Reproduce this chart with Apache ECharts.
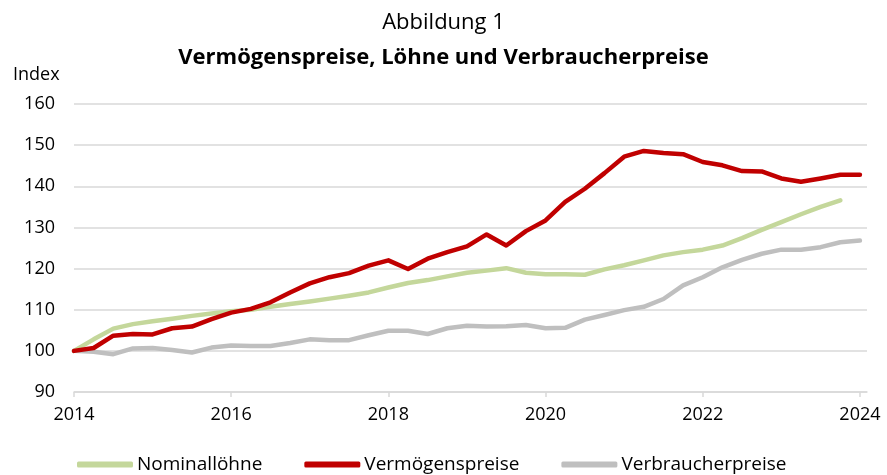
<!DOCTYPE html>
<html>
<head>
<meta charset="utf-8">
<script src="https://cdn.jsdelivr.net/npm/echarts@6/dist/echarts.min.js"></script>
<style>
html,body{margin:0;padding:0;background:#fff;}
#chart{width:887px;height:475px;}
</style>
</head>
<body>
<div id="chart"></div>
<script>
// Quarterly data, 2014 Q1 onward
var startYear = 2014;
var xTickLabels = [2014, 2016, 2018, 2020, 2022, 2024];
var yTicks = [90, 100, 110, 120, 130, 140, 150, 160];

var nominalloehne = [100, 102.8, 105.4, 106.5, 107.2, 107.8, 108.5, 109.1, 109.6, 110.0,
  110.7, 111.4, 112.0, 112.7, 113.4, 114.2, 115.4, 116.5, 117.2, 118.1,
  119.0, 119.5, 120.1, 119.0, 118.6, 118.6, 118.5, 119.8, 120.8, 122.0,
  123.2, 124.0, 124.6, 125.6, 127.4, 129.4, 131.3, 133.2, 135.0, 136.6];

var vermoegenspreise = [100, 100.7, 103.7, 104.1, 104.0, 105.5, 105.9, 107.7, 109.3, 110.2,
  111.8, 114.2, 116.4, 117.9, 118.9, 120.7, 122.0, 119.9, 122.4, 124.0,
  125.4, 128.3, 125.6, 129.1, 131.7, 136.2, 139.4, 143.2, 147.2, 148.6,
  148.1, 147.8, 145.9, 145.1, 143.7, 143.6, 141.9, 141.1, 141.9, 142.8, 142.8];

var verbraucherpreise = [100, 99.8, 99.2, 100.6, 100.7, 100.2, 99.6, 100.8, 101.3, 101.2,
  101.2, 101.9, 102.8, 102.6, 102.6, 103.8, 104.9, 104.9, 104.1, 105.5,
  106.1, 105.9, 106.0, 106.3, 105.5, 105.6, 107.6, 108.7, 109.9, 110.7,
  112.6, 115.9, 117.9, 120.3, 122.1, 123.6, 124.6, 124.6, 125.2, 126.4, 126.8];

function toPairs(arr) {
  return arr.map(function (v, i) { return [startYear + i * 0.25, v]; });
}

var FONT = 'Open Sans';
var chart = echarts.init(document.getElementById('chart'), null, {renderer: 'canvas'});
chart.setOption({
  backgroundColor: '#ffffff',
  animation: false,
  textStyle: {fontFamily: FONT, color: '#000'},
  title: [
    {text: 'Abbildung 1', left: 'center', top: 7,
     textStyle: {fontFamily: FONT, fontWeight: 'normal', fontSize: 22, color: '#000'}},
    {text: 'Vermögenspreise, Löhne und Verbraucherpreise', left: 'center', top: 42,
     textStyle: {fontFamily: FONT, fontWeight: 'bold', fontSize: 22, color: '#000'}},
    {text: 'Index', left: 8, top: 61,
     textStyle: {fontFamily: FONT, fontWeight: 'normal', fontSize: 18, color: '#000'}}
  ],
  grid: {left: 74, right: 20, top: 104, bottom: 83, containLabel: false},
  legend: {
    bottom: -4, left: 72,
    itemWidth: 56, itemHeight: 6, itemGap: 42,
    icon: 'roundRect',
    textStyle: {fontFamily: FONT, fontSize: 19, color: '#000', padding: [0, 0, 0, -1]},
    data: ['Nominallöhne', 'Vermögenspreise', 'Verbraucherpreise']
  },
  xAxis: {
    type: 'value', min: 2014, max: 2024.09,
    axisLine: {show: true, lineStyle: {color: '#d9d9d9', width: 1.5}},
    axisTick: {show: true, customValues: xTickLabels, length: 5, lineStyle: {color: '#d9d9d9', width: 1.5}},
    axisLabel: {customValues: xTickLabels, fontFamily: FONT, fontSize: 18, color: '#000', margin: 14,
      formatter: function (v) { return String(Math.round(v)); }},
    splitLine: {show: false}
  },
  yAxis: {
    type: 'value', min: yTicks[0], max: yTicks[yTicks.length - 1], interval: 10,
    axisLine: {show: false}, axisTick: {show: false},
    axisLabel: {fontFamily: FONT, fontSize: 18, color: '#000', margin: 19},
    splitLine: {show: true, lineStyle: {color: '#d9d9d9', width: 1.5}}
  },
  series: [
    {name: 'Nominallöhne', type: 'line', data: toPairs(nominalloehne), showSymbol: false, z: 2,
     color: '#c4d79b', lineStyle: {width: 4.5, cap: 'round', join: 'round', color: '#c4d79b'}},
    {name: 'Vermögenspreise', type: 'line', data: toPairs(vermoegenspreise), showSymbol: false, z: 3,
     color: '#c00000', lineStyle: {width: 4.5, cap: 'round', join: 'round', color: '#c00000'}},
    {name: 'Verbraucherpreise', type: 'line', data: toPairs(verbraucherpreise), showSymbol: false, z: 1,
     color: '#bfbfbf', lineStyle: {width: 4.5, cap: 'round', join: 'round', color: '#bfbfbf'}}
  ]
});
</script>
</body>
</html>
